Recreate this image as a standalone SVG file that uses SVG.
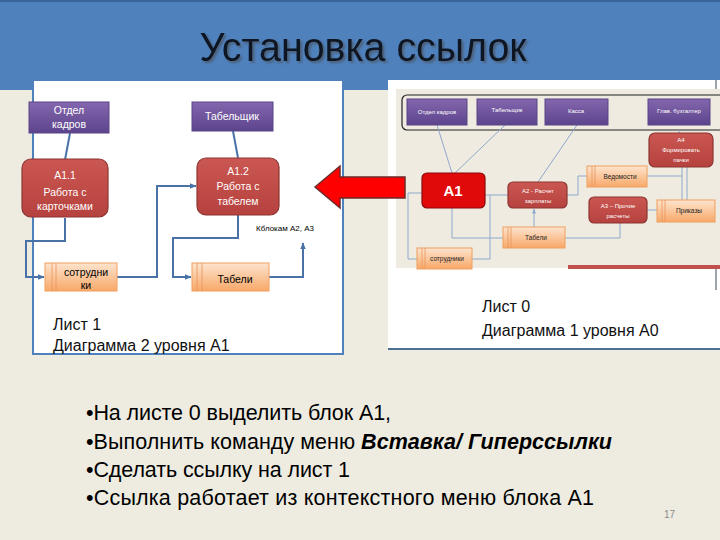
<svg xmlns="http://www.w3.org/2000/svg" width="720" height="540" viewBox="0 0 720 540">
<defs>
<linearGradient id="purp" x1="0" y1="0" x2="0" y2="1"><stop offset="0" stop-color="#8467AE"/><stop offset="1" stop-color="#5C448C"/></linearGradient>
<linearGradient id="org" x1="0" y1="0" x2="0" y2="1"><stop offset="0" stop-color="#FDE4CE"/><stop offset="1" stop-color="#F8A868"/></linearGradient>
<linearGradient id="redg" x1="0" y1="0" x2="0" y2="1"><stop offset="0" stop-color="#CB5752"/><stop offset="1" stop-color="#B5423E"/></linearGradient>
<filter id="sh" x="-5%" y="-20%" width="110%" height="150%"><feDropShadow dx="2" dy="2" stdDeviation="1" flood-color="#4A4A4A" flood-opacity="0.6"/></filter>
<marker id="ah" viewBox="0 0 10 10" refX="9" refY="5" markerWidth="7" markerHeight="7" markerUnits="userSpaceOnUse" orient="auto"><path d="M0,1 L10,5 L0,9 z" fill="#4A72A6"/></marker>
<marker id="ahs" viewBox="0 0 10 10" refX="9" refY="5" markerWidth="5" markerHeight="5" markerUnits="userSpaceOnUse" orient="auto"><path d="M0,1 L10,5 L0,9 z" fill="#8EA9CC"/></marker>
</defs>
<style>
.t{font-family:"Liberation Sans",Arial,sans-serif}
.wt{fill:#fff;font-size:10.5px;text-anchor:middle}
.ws{fill:#fff;font-size:6px;text-anchor:middle}
.bs{fill:#222;font-size:6.5px;text-anchor:middle}
.bk{fill:#000;font-size:10.5px;text-anchor:middle}
.pu{fill:url(#purp);stroke:#5A4487;stroke-width:1}
.rd{fill:url(#redg);stroke:#8E3532;stroke-width:1.2}
.or{fill:url(#org);stroke:#F0A060;stroke-width:1}
.dv{stroke:#E8955A;stroke-width:0.8}
.c{fill:none;stroke:#4A72A6;stroke-width:2}
.cs{fill:none;stroke:#8EA9CC;stroke-width:1}
.lb{fill:#111;font-size:16px}
.bl{fill:#000;font-size:21.5px}
</style>

<!-- background -->
<rect x="0" y="0" width="720" height="540" fill="#EEECE1"/>
<rect x="0" y="0" width="720" height="90" fill="#4F81BD"/>
<rect x="0" y="0" width="720" height="2" fill="#3A6598"/>

<g id="title" class="t">
<text x="363" y="61" font-size="40" text-anchor="middle" fill="#0D1520" textLength="327" lengthAdjust="spacingAndGlyphs" filter="url(#sh)">Установка ссылок</text>
</g>

<!-- left panel -->
<g id="sheet1">
<rect x="33" y="80" width="310" height="274" fill="#fff" stroke="#4F81BD" stroke-width="2"/>
</g>

<!-- right panel -->
<g id="sheet0">
<rect x="388" y="80" width="332" height="269" fill="#fff"/>
<line x1="388" y1="349" x2="720" y2="349" stroke="#4F6F92" stroke-width="2"/>
<line x1="716" y1="80" x2="716" y2="290" stroke="#3A4A5A" stroke-width="1"/>
<rect x="396" y="89" width="324" height="179" fill="#EFEBE1"/>
<rect x="568" y="265" width="152" height="4" fill="#C0504D"/>
<rect x="402" y="95" width="330" height="35" rx="5" fill="none" stroke="#222" stroke-width="1.2"/>
</g>

<!-- connectors -->
<g id="connectors">
<path class="c" d="M70,133 L65,160"/>
<path class="c" d="M233,131 L238,158"/>
<path class="c" d="M65,218 V241 H26 V277 H44" marker-end="url(#ah)"/>
<path class="c" d="M117,277 H157 V186 H196" marker-end="url(#ah)"/>
<path class="c" d="M238,215 V238 H173 V277 H191" marker-end="url(#ah)"/>
<path class="c" d="M269,277 H303 V243" marker-end="url(#ah)"/>

<path class="cs" d="M437,125 L452,173"/>
<path class="cs" d="M505,125 L455,173"/>
<path class="cs" d="M577,125 L538,182"/>
<path class="cs" d="M679,130 V133"/>
<path class="cs" d="M408,193 H422"/>
<path class="cs" d="M408,193 V259 H417"/>
<path class="cs" d="M452,208 V238 H503"/>
<path class="cs" d="M485,195 H508"/>
<path class="cs" d="M472,259 H490 V195"/>
<path class="cs" d="M534,227 V209" marker-end="url(#ahs)"/>
<path class="cs" d="M565,238 H620 V223"/>
<path class="cs" d="M567,195 H578 V176 H587"/>
<path class="cs" d="M647,176 H682"/>
<path class="cs" d="M682,167 V200"/>
<path class="cs" d="M687,167 V200"/>
<path class="cs" d="M647,210 H657"/>
</g>

<!-- left nodes -->
<g id="otdel1" class="t">
<rect class="pu" x="29" y="102" width="80" height="31"/>
<text class="wt" x="69" y="114">Отдел</text>
<text class="wt" x="69" y="128">кадров</text>
</g>
<g id="tabelshik1" class="t">
<rect class="pu" x="192" y="102" width="81" height="29"/>
<text class="wt" x="232" y="120">Табельщик</text>
</g>
<g id="a11" class="t">
<rect class="rd" x="22" y="159" width="86" height="58" rx="9"/>
<text class="wt" x="65" y="179">А1.1</text>
<text class="wt" x="65" y="196">Работа с</text>
<text class="wt" x="65" y="210">карточками</text>
</g>
<g id="a12" class="t">
<rect class="rd" x="197" y="158" width="82" height="57" rx="9"/>
<text class="wt" x="238" y="175">А1.2</text>
<text class="wt" x="238" y="190">Работа с</text>
<text class="wt" x="238" y="205">табелем</text>
</g>
<g id="sotr1" class="t">
<rect class="or" x="45" y="263" width="72" height="28"/>
<line class="dv" x1="52" y1="263" x2="52" y2="291"/>
<line class="dv" x1="56" y1="263" x2="56" y2="291"/>
<text class="bk" x="86" y="276">сотрудни</text>
<text class="bk" x="86" y="289">ки</text>
</g>
<g id="tabeli1" class="t">
<rect class="or" x="192" y="263" width="77" height="28"/>
<line class="dv" x1="197" y1="263" x2="197" y2="291"/>
<line class="dv" x1="202" y1="263" x2="202" y2="291"/>
<text class="bk" x="235" y="283">Табели</text>
</g>
<g id="label-k" class="t">
<text x="256" y="231" font-size="8" fill="#000">Кблокам А2, А3</text>
</g>
<g id="caption1" class="t">
<text class="lb" x="53" y="330">Лист 1</text>
<text class="lb" x="53" y="351">Диаграмма 2 уровня А1</text>
</g>

<!-- right nodes -->
<g id="otdel0" class="t">
<rect class="pu" x="407" y="99" width="60" height="26"/>
<text class="ws" x="437" y="114">Отдел кадров</text>
</g>
<g id="tabelshik0" class="t">
<rect class="pu" x="477" y="99" width="60" height="26"/>
<text class="ws" x="507" y="112">Табельщик</text>
</g>
<g id="kassa0" class="t">
<rect class="pu" x="545" y="99" width="63" height="26"/>
<text class="ws" x="576" y="113">Касса</text>
</g>
<g id="glbuh0" class="t">
<rect class="pu" x="648" y="99" width="62" height="26"/>
<text class="ws" x="679" y="113">Глав. бухгалтер</text>
</g>
<g id="a4" class="t">
<rect class="rd" x="649" y="133" width="64" height="34" rx="6"/>
<text class="ws" x="681" y="142">А4</text>
<text class="ws" x="681" y="152">Формировать</text>
<text class="ws" x="681" y="162">пачки</text>
</g>
<g id="a1" class="t">
<rect x="422" y="173" width="63" height="35" rx="5" fill="#E10A0A" stroke="#8A0A0A" stroke-width="1.2"/>
<text x="453" y="196" font-size="15" font-weight="bold" fill="#fff" text-anchor="middle">А1</text>
</g>
<g id="a2" class="t">
<rect class="rd" x="508" y="182" width="59" height="26" rx="5"/>
<text class="ws" x="538" y="193">А2 - Расчет</text>
<text class="ws" x="538" y="203">зарплаты</text>
</g>
<g id="vedomosti" class="t">
<rect class="or" x="587" y="166" width="60" height="21"/>
<line class="dv" x1="592" y1="166" x2="592" y2="187"/>
<line class="dv" x1="595" y1="166" x2="595" y2="187"/>
<text class="bs" x="620" y="179">Ведомости</text>
</g>
<g id="a3" class="t">
<rect class="rd" x="589" y="197" width="58" height="26" rx="5"/>
<text class="ws" x="618" y="208">А3 – Прочие</text>
<text class="ws" x="618" y="218">расчеты</text>
</g>
<g id="prikazy" class="t">
<rect class="or" x="657" y="200" width="58" height="22"/>
<line class="dv" x1="662" y1="200" x2="662" y2="222"/>
<line class="dv" x1="665" y1="200" x2="665" y2="222"/>
<text class="bs" x="689" y="213">Приказы</text>
</g>
<g id="tabeli0" class="t">
<rect class="or" x="503" y="227" width="62" height="21"/>
<line class="dv" x1="508" y1="227" x2="508" y2="248"/>
<line class="dv" x1="511" y1="227" x2="511" y2="248"/>
<text class="bs" x="536" y="240">Табели</text>
</g>
<g id="sotr0" class="t">
<rect class="or" x="417" y="248" width="55" height="21"/>
<line class="dv" x1="422" y1="248" x2="422" y2="269"/>
<line class="dv" x1="425" y1="248" x2="425" y2="269"/>
<text class="bs" x="447" y="261">сотрудники</text>
</g>
<g id="caption0" class="t">
<text class="lb" x="482" y="312">Лист 0</text>
<text class="lb" x="482" y="336">Диаграмма 1 уровня А0</text>
</g>

<!-- big red arrow -->
<g id="link-arrow">
<polygon points="315,187 340,166 340,177 405,177 405,198 340,198 340,208" fill="#FF0000" stroke="#6E2A2A" stroke-width="1.5" stroke-linejoin="miter"/>
</g>

<!-- bullets -->
<g id="bullets" class="t">
<text class="bl" x="86" y="420" textLength="305" lengthAdjust="spacing">•На листе 0 выделить блок А1,</text>
<text class="bl" x="86" y="449" textLength="526" lengthAdjust="spacing">•Выполнить команду меню <tspan font-weight="bold" font-style="italic">Вставка/ Гиперссылки</tspan></text>
<text class="bl" x="86" y="477" textLength="264" lengthAdjust="spacing">•Сделать ссылку на лист 1</text>
<text class="bl" x="86" y="505" textLength="508" lengthAdjust="spacing">•Ссылка работает из контекстного меню блока А1</text>
<text x="664" y="518" font-size="10" fill="#8A8A8A">17</text>
</g>
</svg>
